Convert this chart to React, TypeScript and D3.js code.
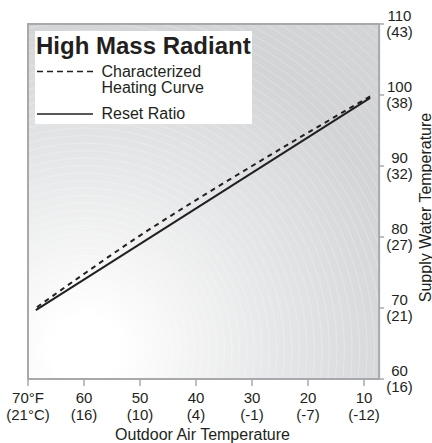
import React from "react";
import * as d3 from "d3";

// Outdoor air temperature ticks (°F) and their °C labels
const xTicks = [70, 60, 50, 40, 30, 20, 10];
const xTickF = ["70°F", "60", "50", "40", "30", "20", "10"];
const xTickC = ["(21°C)", "(16)", "(10)", "(4)", "(-1)", "(-7)", "(-12)"];

// Supply water temperature ticks (°F) and their °C labels
const yTicks = [60, 70, 80, 90, 100, 110];
const yTickC = ["(16)", "(21)", "(27)", "(32)", "(38)", "(43)"];

// Reset Ratio (straight line)
const resetOutdoor = [68.6, 8.9];
const resetSupply = [69.7, 99.6];

// Characterized Heating Curve
const curveOutdoor = [68.6, 60, 50, 40, 30, 20, 8.9];
const curveSupply = [70.0, 74.8, 80.2, 85.2, 90.0, 94.7, 99.8];

const legendTitle = "High Mass Radiant";
const legendDashed = ["Characterized", "Heating Curve"];
const legendSolid = "Reset Ratio";
const xTitle = "Outdoor Air Temperature";
const yTitle = "Supply Water Temperature";

const W = 432;
const H = 443;
const FONT = "'Liberation Sans', Arial, Helvetica, sans-serif";
const INK = "#231f20";
const AXIS = "#a7a9ac";

export default function App() {
  const x = d3.scaleLinear().domain([70, 10]).range([28, 364]);
  const y = d3.scaleLinear().domain([60, 110]).range([379, 24]);
  const left = x(70);
  const right = x(7.3);
  const top = y(110);
  const bottom = y(60);

  const line = d3
    .line<[number, number]>()
    .x((d) => x(d[0]))
    .y((d) => y(d[1]));
  const curveLine = d3
    .line<[number, number]>()
    .x((d) => x(d[0]))
    .y((d) => y(d[1]))
    .curve(d3.curveMonotoneX);

  const resetPts: [number, number][] = resetOutdoor.map((t, i) => [t, resetSupply[i]]);
  const curvePts: [number, number][] = curveOutdoor
    .map((t, i) => [t, curveSupply[i]] as [number, number])
    .sort((a, b) => a[0] - b[0]);

  const cx = 85;
  const cy = 350;
  const rings = d3.range(12, 520, 7.5);

  return (
    <svg
      width={W}
      height={H}
      style={{ position: "absolute", left: 0, top: 0, background: "#fff" }}
      fontFamily={FONT}
    >
      <defs>
        <radialGradient
          id="bg"
          gradientUnits="userSpaceOnUse"
          cx={cx}
          cy={cy}
          r={330}
        >
          <stop offset="0" stopColor="#ffffff" />
          <stop offset="0.1" stopColor="#ffffff" />
          <stop offset="0.55" stopColor="#e7e8e9" />
          <stop offset="1" stopColor="#d3d4d6" />
        </radialGradient>
        <clipPath id="plotClip">
          <rect x={left} y={top} width={right - left} height={bottom - top} />
        </clipPath>
      </defs>

      <rect x={left} y={top} width={right - left} height={bottom - top} fill="url(#bg)" />
      <g clipPath="url(#plotClip)">
        {rings.map((r, i) => (
          <circle
            key={i}
            cx={cx}
            cy={cy}
            r={r}
            fill="none"
            stroke="#ffffff"
            strokeOpacity={0.35}
            strokeWidth={0.7}
          />
        ))}
      </g>

      {/* frame */}
      <rect
        x={left}
        y={top}
        width={right - left}
        height={bottom - top}
        fill="none"
        stroke={AXIS}
        strokeWidth={2}
      />

      {/* bottom ticks */}
      {xTicks.map((t, i) => (
        <g key={"xt" + i}>
          <line x1={x(t)} x2={x(t)} y1={bottom} y2={bottom + 7} stroke={AXIS} strokeWidth={1.5} />
          <text x={x(t)} y={402.5} fontSize={15} textAnchor="middle" fill={INK}>
            {xTickF[i]}
          </text>
          <text x={x(t)} y={420} fontSize={15} textAnchor="middle" fill={INK}>
            {xTickC[i]}
          </text>
        </g>
      ))}

      {/* right ticks */}
      {yTicks.map((t, i) => (
        <g key={"yt" + i}>
          <line x1={right} x2={right + 5} y1={y(t)} y2={y(t)} stroke={AXIS} strokeWidth={1.5} />
          <text x={399.5} y={y(t) - 3.5} fontSize={15} textAnchor="middle" fill={INK}>
            {String(t)}
          </text>
          <text x={399.5} y={y(t) + 13} fontSize={15} textAnchor="middle" fill={INK}>
            {yTickC[i]}
          </text>
        </g>
      ))}

      {/* series */}
      <path d={line(resetPts) || ""} fill="none" stroke={INK} strokeWidth={2} />
      <path
        d={curveLine(curvePts) || ""}
        fill="none"
        stroke={INK}
        strokeWidth={2}
        strokeDasharray="5,4.5"
      />

      {/* legend */}
      <rect x={35} y={31} width={217} height={93} fill="#ffffff" />
      <text x={36} y={53.5} fontSize={24} fontWeight="bold" fill={INK}>
        {legendTitle}
      </text>
      <line x1={37} x2={97} y1={71.5} y2={71.5} stroke={INK} strokeWidth={1.5} strokeDasharray="6,4" />
      <text x={101.5} y={77} fontSize={16} fill={INK}>
        {legendDashed[0]}
      </text>
      <text x={101.5} y={93} fontSize={16} fill={INK}>
        {legendDashed[1]}
      </text>
      <line x1={37} x2={93} y1={114} y2={114} stroke={INK} strokeWidth={1.5} />
      <text x={101.5} y={118.5} fontSize={16} fill={INK}>
        {legendSolid}
      </text>

      {/* axis titles */}
      <text x={202.5} y={440} fontSize={16} textAnchor="middle" fill={INK}>
        {xTitle}
      </text>
      <text
        transform={`translate(430.5,${207.5}) rotate(-90)`}
        fontSize={16}
        textAnchor="middle"
        fill={INK}
      >
        {yTitle}
      </text>
    </svg>
  );
}
